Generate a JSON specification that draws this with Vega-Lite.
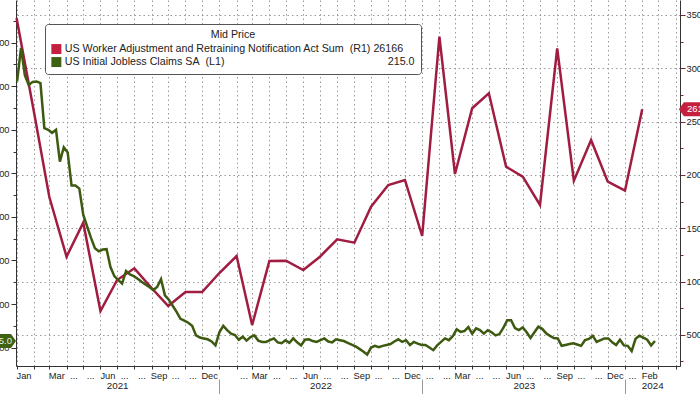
{
  "$schema": "https://vega.github.io/schema/vega-lite/v6.json",
  "width": 664,
  "height": 366,
  "autosize": {"type": "none"},
  "padding": {"left": 16, "top": 0, "right": 20, "bottom": 28},
  "background": "white",
  "config": {
    "font": "Liberation Sans",
    "view": {"stroke": null},
    "axis": {"labelFont": "Liberation Sans", "labelFontSize": 9.3, "labelColor": "#222", "domainColor": "#333", "tickColor": "#333", "domainWidth": 1}
  },
  "datasets": {
    "warn": [
      {"date": "2021-01-01", "v": 34719}, {"date": "2021-02-01", "v": 25995}, {"date": "2021-03-01", "v": 17928},
      {"date": "2021-04-01", "v": 12328}, {"date": "2021-05-01", "v": 15517}, {"date": "2021-06-01", "v": 7235},
      {"date": "2021-07-01", "v": 10143}, {"date": "2021-08-01", "v": 11240}, {"date": "2021-09-01", "v": 9393},
      {"date": "2021-10-01", "v": 7704}, {"date": "2021-11-01", "v": 9017}, {"date": "2021-12-01", "v": 9017},
      {"date": "2022-01-01", "v": 10800}, {"date": "2022-02-01", "v": 12394}, {"date": "2022-03-01", "v": 5922},
      {"date": "2022-04-01", "v": 11925}, {"date": "2022-05-01", "v": 11953}, {"date": "2022-06-01", "v": 11081},
      {"date": "2022-07-01", "v": 12328}, {"date": "2022-08-01", "v": 13961}, {"date": "2022-09-01", "v": 13641},
      {"date": "2022-10-01", "v": 17019}, {"date": "2022-11-01", "v": 19054}, {"date": "2022-12-01", "v": 19523},
      {"date": "2023-01-01", "v": 14270}, {"date": "2023-02-01", "v": 32965}, {"date": "2023-03-01", "v": 20086},
      {"date": "2023-04-01", "v": 26249}, {"date": "2023-05-01", "v": 27655}, {"date": "2023-06-01", "v": 20771},
      {"date": "2023-07-01", "v": 19833}, {"date": "2023-08-01", "v": 17178}, {"date": "2023-09-01", "v": 31877},
      {"date": "2023-10-01", "v": 19458}, {"date": "2023-11-01", "v": 23275}, {"date": "2023-12-01", "v": 19364},
      {"date": "2024-01-01", "v": 18519}, {"date": "2024-02-01", "v": 26166}
    ],
    "warnTag": [{"date": "2024-05-13", "v": 26166}],
    "claimsTag": [{"date": "2020-11-25", "v": 215}],
    "claims": [
      {"date": "2021-01-02", "v": 811}, {"date": "2021-01-09", "v": 888}, {"date": "2021-01-16", "v": 825},
      {"date": "2021-01-23", "v": 803}, {"date": "2021-01-30", "v": 810}, {"date": "2021-02-06", "v": 811},
      {"date": "2021-02-13", "v": 807}, {"date": "2021-02-20", "v": 704}, {"date": "2021-02-27", "v": 700},
      {"date": "2021-03-06", "v": 693}, {"date": "2021-03-13", "v": 700}, {"date": "2021-03-20", "v": 627},
      {"date": "2021-03-27", "v": 660}, {"date": "2021-04-03", "v": 648}, {"date": "2021-04-10", "v": 572},
      {"date": "2021-04-17", "v": 572}, {"date": "2021-04-24", "v": 565}, {"date": "2021-05-01", "v": 505},
      {"date": "2021-05-08", "v": 478}, {"date": "2021-05-15", "v": 452}, {"date": "2021-05-22", "v": 428},
      {"date": "2021-05-29", "v": 421}, {"date": "2021-06-05", "v": 425}, {"date": "2021-06-12", "v": 426},
      {"date": "2021-06-19", "v": 385}, {"date": "2021-06-26", "v": 364}, {"date": "2021-07-03", "v": 355},
      {"date": "2021-07-10", "v": 347}, {"date": "2021-07-17", "v": 376}, {"date": "2021-07-24", "v": 368},
      {"date": "2021-07-31", "v": 364}, {"date": "2021-08-07", "v": 358}, {"date": "2021-08-14", "v": 351},
      {"date": "2021-08-21", "v": 345}, {"date": "2021-08-28", "v": 339}, {"date": "2021-09-04", "v": 332},
      {"date": "2021-09-11", "v": 339}, {"date": "2021-09-18", "v": 357}, {"date": "2021-09-25", "v": 320},
      {"date": "2021-10-02", "v": 310}, {"date": "2021-10-09", "v": 296}, {"date": "2021-10-16", "v": 282},
      {"date": "2021-10-23", "v": 266}, {"date": "2021-10-30", "v": 262}, {"date": "2021-11-06", "v": 257},
      {"date": "2021-11-13", "v": 250}, {"date": "2021-11-20", "v": 228}, {"date": "2021-11-27", "v": 223},
      {"date": "2021-12-04", "v": 221}, {"date": "2021-12-11", "v": 219}, {"date": "2021-12-18", "v": 214},
      {"date": "2021-12-25", "v": 205}, {"date": "2022-01-01", "v": 235}, {"date": "2022-01-08", "v": 250},
      {"date": "2022-01-15", "v": 240}, {"date": "2022-01-22", "v": 232}, {"date": "2022-01-29", "v": 229},
      {"date": "2022-02-05", "v": 218}, {"date": "2022-02-12", "v": 225}, {"date": "2022-02-19", "v": 216},
      {"date": "2022-02-26", "v": 224}, {"date": "2022-03-05", "v": 228}, {"date": "2022-03-12", "v": 216},
      {"date": "2022-03-19", "v": 213}, {"date": "2022-03-26", "v": 213}, {"date": "2022-04-02", "v": 217},
      {"date": "2022-04-09", "v": 221}, {"date": "2022-04-16", "v": 212}, {"date": "2022-04-23", "v": 210},
      {"date": "2022-04-30", "v": 217}, {"date": "2022-05-07", "v": 211}, {"date": "2022-05-14", "v": 221},
      {"date": "2022-05-21", "v": 212}, {"date": "2022-05-28", "v": 205}, {"date": "2022-06-04", "v": 218},
      {"date": "2022-06-11", "v": 219}, {"date": "2022-06-18", "v": 215}, {"date": "2022-06-25", "v": 213},
      {"date": "2022-07-02", "v": 217}, {"date": "2022-07-09", "v": 221}, {"date": "2022-07-16", "v": 214},
      {"date": "2022-07-23", "v": 212}, {"date": "2022-07-30", "v": 219}, {"date": "2022-08-06", "v": 217},
      {"date": "2022-08-13", "v": 215}, {"date": "2022-08-20", "v": 211}, {"date": "2022-08-27", "v": 207},
      {"date": "2022-09-03", "v": 203}, {"date": "2022-09-10", "v": 197}, {"date": "2022-09-17", "v": 191},
      {"date": "2022-09-24", "v": 184}, {"date": "2022-10-01", "v": 200}, {"date": "2022-10-08", "v": 204},
      {"date": "2022-10-15", "v": 201}, {"date": "2022-10-22", "v": 204}, {"date": "2022-10-29", "v": 206},
      {"date": "2022-11-05", "v": 208}, {"date": "2022-11-12", "v": 214}, {"date": "2022-11-19", "v": 219},
      {"date": "2022-11-26", "v": 213}, {"date": "2022-12-03", "v": 217}, {"date": "2022-12-10", "v": 206},
      {"date": "2022-12-17", "v": 213}, {"date": "2022-12-24", "v": 209}, {"date": "2022-12-31", "v": 206},
      {"date": "2023-01-07", "v": 206}, {"date": "2023-01-14", "v": 200}, {"date": "2023-01-21", "v": 194},
      {"date": "2023-01-28", "v": 205}, {"date": "2023-02-04", "v": 213}, {"date": "2023-02-11", "v": 221},
      {"date": "2023-02-18", "v": 217}, {"date": "2023-02-25", "v": 226}, {"date": "2023-03-04", "v": 242},
      {"date": "2023-03-11", "v": 236}, {"date": "2023-03-18", "v": 238}, {"date": "2023-03-25", "v": 247},
      {"date": "2023-04-01", "v": 232}, {"date": "2023-04-08", "v": 244}, {"date": "2023-04-15", "v": 240},
      {"date": "2023-04-22", "v": 232}, {"date": "2023-04-29", "v": 240}, {"date": "2023-05-06", "v": 235},
      {"date": "2023-05-13", "v": 228}, {"date": "2023-05-20", "v": 231}, {"date": "2023-05-27", "v": 245},
      {"date": "2023-06-03", "v": 263}, {"date": "2023-06-10", "v": 263}, {"date": "2023-06-17", "v": 245},
      {"date": "2023-06-24", "v": 240}, {"date": "2023-07-01", "v": 246}, {"date": "2023-07-08", "v": 235},
      {"date": "2023-07-15", "v": 222}, {"date": "2023-07-22", "v": 235}, {"date": "2023-07-29", "v": 248},
      {"date": "2023-08-05", "v": 243}, {"date": "2023-08-12", "v": 233}, {"date": "2023-08-19", "v": 227},
      {"date": "2023-08-26", "v": 222}, {"date": "2023-09-02", "v": 221}, {"date": "2023-09-09", "v": 204},
      {"date": "2023-09-16", "v": 206}, {"date": "2023-09-23", "v": 208}, {"date": "2023-09-30", "v": 210},
      {"date": "2023-10-07", "v": 207}, {"date": "2023-10-14", "v": 204}, {"date": "2023-10-21", "v": 217},
      {"date": "2023-10-28", "v": 220}, {"date": "2023-11-04", "v": 227}, {"date": "2023-11-11", "v": 213},
      {"date": "2023-11-18", "v": 217}, {"date": "2023-11-25", "v": 221}, {"date": "2023-12-02", "v": 221},
      {"date": "2023-12-09", "v": 212}, {"date": "2023-12-16", "v": 206}, {"date": "2023-12-23", "v": 218},
      {"date": "2023-12-30", "v": 205}, {"date": "2024-01-06", "v": 204}, {"date": "2024-01-13", "v": 192},
      {"date": "2024-01-20", "v": 220}, {"date": "2024-01-27", "v": 227}, {"date": "2024-02-03", "v": 223},
      {"date": "2024-02-10", "v": 218}, {"date": "2024-02-17", "v": 205}, {"date": "2024-02-24", "v": 215}
    ]
  },
  "layer": [
    {
      "encoding": {
        "x": {
          "field": "date", "type": "temporal",
          "scale": {"domain": [{"year": 2020, "month": 12, "date": 31}, {"year": 2024, "month": 4, "date": 9}], "nice": false},
          "axis": {
            "orient": "bottom", "title": null,
            "tickCount": {"interval": "month", "step": 1},
            "grid": true, "gridDash": [1.5, 3], "gridColor": "#9a9a9a", "gridWidth": 1,
            "ticks": true, "tickSize": 3,
            "labelOffset": 7, "labelPadding": 2, "labelFlush": false, "labelOverlap": false, "labelBound": false,
            "labelExpr": "((year(datum.value)==2021&&month(datum.value)==1)||(year(datum.value)==2022&&month(datum.value)==0)||(year(datum.value)==2024&&month(datum.value)>=2)) ? '' : ((month(datum.value)%3==2||(year(datum.value)==2021&&month(datum.value)==0)||(year(datum.value)==2024&&month(datum.value)==1)) ? timeFormat(datum.value,'%b') : '...')"
          }
        },
        "y": {
          "field": "v", "type": "quantitative",
          "scale": {"domain": [2076, 36407], "nice": false, "zero": false},
          "axis": {
            "orient": "right", "title": null,
            "values": [2500, 5000, 7500, 10000, 12500, 15000, 17500, 20000, 22500, 25000, 27500, 30000, 32500, 35000],
            "format": "d",
            "labelExpr": "datum.value % 5000 == 0 ? datum.label : ''",
            "grid": true, "gridDash": [1.5, 3], "gridColor": "#9a9a9a",
            "gridOpacity": {"condition": {"test": "datum.value % 5000 == 0", "value": 1}, "value": 0},
            "tickSize": {"condition": {"test": "datum.value % 5000 == 0", "value": 5}, "value": 3},
            "tickColor": "#8c1d3c", "labelPadding": 1
          }
        }
      },
      "layer": [
        {"data": {"name": "warn"}, "mark": {"type": "line", "color": "#a01c40", "strokeWidth": 2.5}},
        {
          "data": {"name": "warnTag"},
          "mark": {"type": "point", "shape": "M-1,0L-0.75,-0.35L1,-0.35L1,0.35L-0.75,0.35Z", "size": 1600, "filled": true, "opacity": 1},
          "encoding": {
            "color": {
              "datum": "warn",
              "scale": {"domain": ["warn", "claims"], "range": ["#c41f3e", "#3f6212"]},
              "legend": {
                "orient": "none", "legendX": 29, "legendY": 24, "direction": "vertical",
                "title": "Mid Price", "titleFontWeight": "normal", "titleFontSize": 10.7, "titleFont": "Liberation Sans",
                "titleAnchor": "middle", "titleAlign": "center", "titleColor": "#222", "titlePadding": 3,
                "labelFont": "Liberation Sans", "labelFontSize": 10.7, "labelColor": "#222", "labelLimit": 800, "labelOffset": 3,
                "symbolType": "square", "symbolSize": 100, "symbolStrokeWidth": 0, "symbolOpacity": 1,
                "padding": 6, "rowPadding": 1, "strokeColor": "#555", "fillColor": "white", "cornerRadius": 3,
                "labelExpr": "datum.label == 'warn' ? 'US Worker Adjustment and Retraining Notification Act Sum\u00a0\u00a0(R1) 26166' : 'US Initial Jobless Claims SA\u00a0\u00a0(L1)\u00a0\u00a0\u00a0\u00a0\u00a0\u00a0\u00a0\u00a0\u00a0\u00a0\u00a0\u00a0\u00a0\u00a0\u00a0\u00a0\u00a0\u00a0\u00a0\u00a0\u00a0\u00a0\u00a0\u00a0\u00a0\u00a0\u00a0\u00a0\u00a0\u00a0\u00a0\u00a0\u00a0\u00a0\u00a0\u00a0\u00a0\u00a0\u00a0\u00a0\u00a0\u00a0\u00a0\u00a0\u00a0\u00a0\u00a0\u00a0\u00a0\u00a0\u00a0\u00a0\u00a0\u00a0\u00a0215.0'"
              }
            }
          }
        },
        {
          "data": {"name": "warnTag"},
          "mark": {"type": "text", "align": "left", "baseline": "middle", "dx": -12, "color": "white", "fontSize": 9.5, "font": "Liberation Sans"},
          "encoding": {"text": {"field": "v", "type": "quantitative", "format": "d"}}
        }
      ]
    },
    {
      "encoding": {
        "x": {
          "field": "date", "type": "temporal",
          "scale": {"domain": [{"year": 2020, "month": 12, "date": 31}, {"year": 2024, "month": 4, "date": 9}], "nice": false},
          "axis": {
            "orient": "bottom", "title": null, "offset": 13,
            "values": [{"year": 2022, "month": 1, "date": 1}, {"year": 2023, "month": 1, "date": 1}, {"year": 2024, "month": 1, "date": 1}],
            "domain": false, "labels": false, "grid": false, "ticks": true, "tickSize": 15, "tickColor": "#999"
          }
        },
        "y": {
          "field": "v", "type": "quantitative",
          "scale": {"domain": [157.7, 998], "nice": false, "zero": false},
          "axis": {
            "orient": "left", "title": null,
            "values": [200, 250, 300, 350, 400, 450, 500, 550, 600, 650, 700, 750, 800, 850, 900, 950],
            "labelExpr": "datum.value % 100 == 0 ? datum.label : ''",
            "grid": false,
            "tickSize": {"condition": {"test": "datum.value % 100 == 0", "value": 5}, "value": 3},
            "labelPadding": 2
          }
        }
      },
      "layer": [
        {"data": {"name": "claims"}, "mark": {"type": "line", "color": "#3d5a10", "strokeWidth": 2.5}},
        {
          "data": {"name": "claimsTag"},
          "mark": {"type": "point", "shape": "M1,0L0.75,-0.35L-1,-0.35L-1,0.35L0.75,0.35Z", "size": 1600, "filled": true, "opacity": 1},
          "encoding": {"color": {"datum": "claims"}}
        },
        {
          "data": {"name": "claimsTag"},
          "mark": {"type": "text", "align": "right", "baseline": "middle", "dx": 16, "color": "#e8f2dc", "fontSize": 9.5, "font": "Liberation Sans"},
          "encoding": {"text": {"field": "v", "type": "quantitative", "format": ".1f"}}
        }
      ]
    },
    {
      "data": {"values": [{"date": "2021-07-01"}]},
      "mark": {"type": "rule", "opacity": 0},
      "encoding": {
        "x": {
          "field": "date", "type": "temporal",
          "scale": {"domain": [{"year": 2020, "month": 12, "date": 31}, {"year": 2024, "month": 4, "date": 9}], "nice": false},
          "axis": {
            "orient": "bottom", "title": null,
            "values": [{"year": 2021, "month": 7, "date": 1}, {"year": 2022, "month": 7, "date": 2}, {"year": 2023, "month": 7, "date": 3}, {"year": 2024, "month": 2, "date": 19}],
            "labelExpr": "timeFormat(datum.value, '%Y')",
            "domain": false, "ticks": false, "tickSize": 0, "grid": false,
            "labelPadding": 14, "labelFontSize": 9.8, "labelFlush": false, "labelOverlap": false, "labelBound": false
          }
        }
      }
    }
  ],
  "resolve": {"scale": {"y": "independent"}, "axis": {"x": "independent", "y": "independent"}}
}
